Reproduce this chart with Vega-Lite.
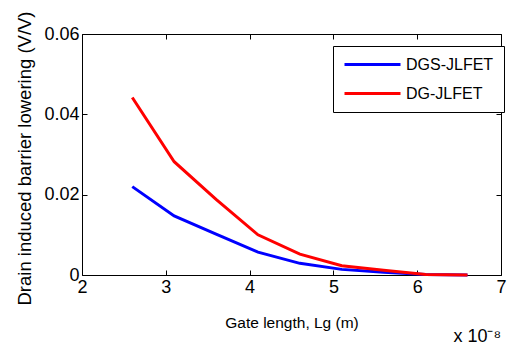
{
  "$schema": "https://vega.github.io/schema/vega-lite/v6.json",
  "width": 419,
  "height": 241,
  "autosize": "none",
  "padding": {"left": 82, "top": 34, "right": 7, "bottom": 69},
  "background": "white",
  "title": {
    "text": "x 10⁻⁸",
    "orient": "bottom",
    "anchor": "end",
    "frame": "group",
    "font": "Liberation Sans",
    "fontSize": 18,
    "fontWeight": "normal",
    "color": "black",
    "offset": 0,
    "dy": -3
  },
  "data": {
    "values": [
      {"lg": 2.6, "dibl": 0.0220, "device": "DGS-JLFET"},
      {"lg": 3.1, "dibl": 0.0147, "device": "DGS-JLFET"},
      {"lg": 3.6, "dibl": 0.0102, "device": "DGS-JLFET"},
      {"lg": 4.1, "dibl": 0.0057, "device": "DGS-JLFET"},
      {"lg": 4.6, "dibl": 0.0029, "device": "DGS-JLFET"},
      {"lg": 5.1, "dibl": 0.0014, "device": "DGS-JLFET"},
      {"lg": 5.6, "dibl": 0.0007, "device": "DGS-JLFET"},
      {"lg": 6.1, "dibl": 0.0001, "device": "DGS-JLFET"},
      {"lg": 6.6, "dibl": 0.0000, "device": "DGS-JLFET"},
      {"lg": 2.6, "dibl": 0.0442, "device": "DG-JLFET"},
      {"lg": 3.1, "dibl": 0.0282, "device": "DG-JLFET"},
      {"lg": 3.6, "dibl": 0.0188, "device": "DG-JLFET"},
      {"lg": 4.1, "dibl": 0.0100, "device": "DG-JLFET"},
      {"lg": 4.6, "dibl": 0.0052, "device": "DG-JLFET"},
      {"lg": 5.1, "dibl": 0.0023, "device": "DG-JLFET"},
      {"lg": 5.6, "dibl": 0.0012, "device": "DG-JLFET"},
      {"lg": 6.1, "dibl": 0.0001, "device": "DG-JLFET"},
      {"lg": 6.6, "dibl": 0.0000, "device": "DG-JLFET"}
    ]
  },
  "layer": [
    {
      "transform": [{"filter": "datum.device == 'DGS-JLFET'"}],
      "mark": {"type": "line", "strokeWidth": 3},
      "encoding": {
        "x": {
          "field": "lg", "type": "quantitative",
          "scale": {"domain": [2, 7], "nice": false, "zero": false},
          "axis": {
            "orient": "bottom", "values": [2, 3, 4, 5, 6, 7], "format": "d",
            "labelFlush": false,
            "title": "Gate length, Lg (m)",
            "titleY": 52, "titleBaseline": "alphabetic",
            "titleFont": "Liberation Sans", "titleFontSize": 15.5
          }
        },
        "y": {
          "field": "dibl", "type": "quantitative",
          "scale": {"domain": [0, 0.06], "nice": false},
          "axis": {
            "orient": "left", "values": [0, 0.02, 0.04, 0.06],
            "labelFlush": false,
            "labelExpr": "datum.value == 0 ? '0' : format(datum.value, '.2f')",
            "title": "Drain induced barrier lowering (V/V)",
            "titleX": -52, "titleY": 124, "titleBaseline": "alphabetic",
            "titleFont": "Liberation Sans", "titleFontSize": 18.5
          }
        },
        "color": {
          "field": "device", "type": "nominal",
          "scale": {"domain": ["DGS-JLFET", "DG-JLFET"], "range": ["#0000ff", "#ff0000"]},
          "legend": {
            "title": null,
            "orient": "none",
            "legendX": 251,
            "legendY": 12,
            "padding": 10,
            "strokeColor": "black",
            "fillColor": "white",
            "cornerRadius": 0,
            "symbolType": "M-4,0L4,0",
            "symbolSize": 196,
            "symbolStrokeWidth": 3,
            "symbolOffset": 21,
            "labelOffset": 25,
            "rowPadding": 12,
            "labelFont": "Liberation Sans",
            "labelFontSize": 16,
            "labelColor": "black"
          }
        }
      }
    },
    {
      "transform": [{"filter": "datum.device == 'DG-JLFET'"}],
      "mark": {"type": "line", "strokeWidth": 3},
      "encoding": {
        "x": {
          "field": "lg", "type": "quantitative",
          "axis": {"orient": "top", "values": [2, 3, 4, 5, 6, 7], "labels": false, "title": null}
        },
        "y": {
          "field": "dibl", "type": "quantitative",
          "axis": {"orient": "right", "values": [0, 0.02, 0.04, 0.06], "labels": false, "title": null}
        },
        "color": {"field": "device", "type": "nominal"}
      }
    }
  ],
  "resolve": {"axis": {"x": "independent", "y": "independent"}},
  "config": {
    "view": {"stroke": "black", "strokeWidth": 1},
    "axis": {
      "grid": false,
      "domain": false,
      "tickSize": -5,
      "tickColor": "black",
      "tickWidth": 1,
      "labelFont": "Liberation Sans",
      "labelFontSize": 18,
      "labelColor": "black",
      "labelPadding": 8,
      "titleColor": "black",
      "titleFontWeight": "normal"
    }
  }
}
